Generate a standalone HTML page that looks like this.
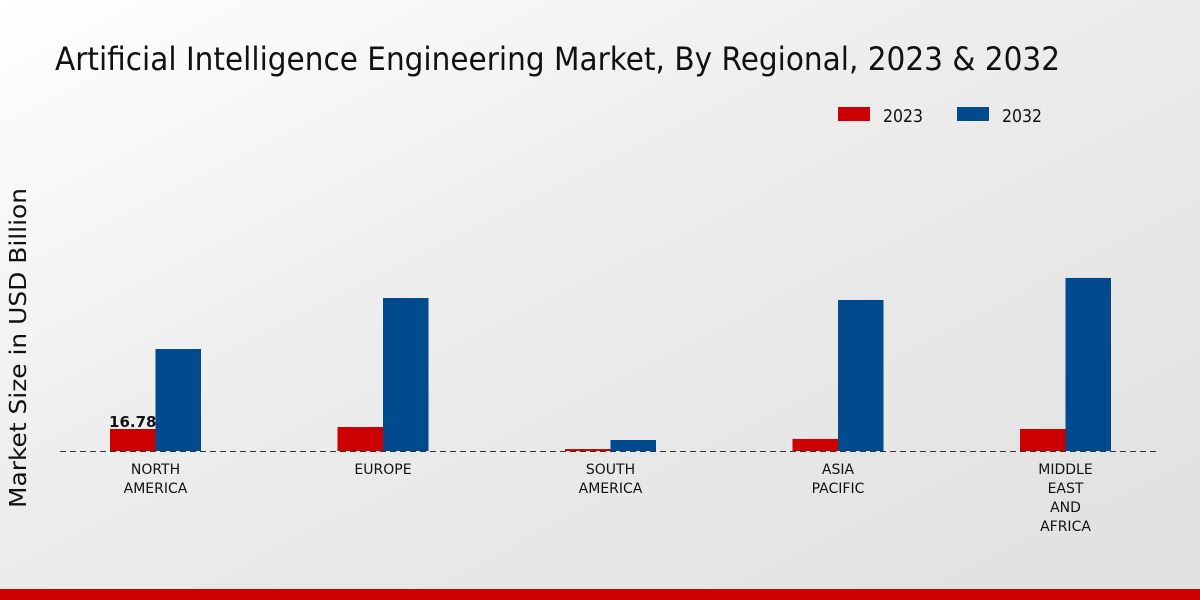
<!DOCTYPE html>
<html><head><meta charset="utf-8"><style>
html,body{margin:0;padding:0;width:1200px;height:600px;overflow:hidden}
svg{display:block}
text{font-family:"DejaVu Sans","Liberation Sans",sans-serif}
</style></head><body>
<svg id="chart" width="1200" height="600" xmlns="http://www.w3.org/2000/svg">
<defs><linearGradient id="bg" x1="0" y1="0" x2="1" y2="1"><stop offset="0" stop-color="#ffffff"/><stop offset="0.45" stop-color="#ececec"/><stop offset="1" stop-color="#e0e0e0"/></linearGradient></defs>
<rect width="1200" height="600" fill="url(#bg)"/>
<rect x="0" y="589" width="1200" height="11" fill="#cc0000"/>
<text x="55" y="70" font-size="32" textLength="1005" lengthAdjust="spacingAndGlyphs" fill="#111">Artificial Intelligence Engineering Market, By Regional, 2023 &amp; 2032</text>
<text transform="translate(26,348) rotate(-90)" text-anchor="middle" font-size="23" textLength="320" lengthAdjust="spacingAndGlyphs" fill="#111">Market Size in USD Billion</text>
<g>
<rect x="838" y="107" width="32" height="14" fill="#cc0000"/>
<text x="883" y="122" font-size="18" textLength="40" lengthAdjust="spacingAndGlyphs" fill="#111">2023</text>
<rect x="957" y="107" width="32" height="14" fill="#004a8d"/>
<text x="1002" y="122" font-size="18" textLength="40" lengthAdjust="spacingAndGlyphs" fill="#111">2032</text>
</g>
<g id="bars"></g>
<line x1="60" y1="451.5" x2="1160" y2="451.5" stroke="#333" stroke-dasharray="6,4" stroke-width="1"/>
<g id="labels"></g>
</svg>
<script>
const categories = [["NORTH","AMERICA"],["EUROPE"],["SOUTH","AMERICA"],["ASIA","PACIFIC"],["MIDDLE","EAST","AND","AFRICA"]];
const values2023 = [16.78, 18.3, 1.5, 9.2, 16.8];
const values2032 = [77.8, 116.7, 8.4, 115.2, 132.0];
const shownLabel = ["16.78", null, null, null, null];

const NS = "http://www.w3.org/2000/svg";
const baseY = 451, pxPer = 22/16.78;
const y = v => baseY - v*pxPer;
const xc = i => 155.5 + i*227.5;
const bw = 45.5;
const bars = document.getElementById('bars'), labels = document.getElementById('labels');
function mk(tag, attrs, parent){const e=document.createElementNS(NS,tag);for(const k in attrs)e.setAttribute(k,attrs[k]);parent.appendChild(e);return e;}
categories.forEach((c,i)=>{
  const r1 = mk('rect',{x:xc(i)-bw,y:y(values2023[i]),width:bw,height:baseY-y(values2023[i]),fill:'#cc0000'},bars);
  
  
  const r2 = mk('rect',{x:xc(i),y:y(values2032[i]),width:bw,height:baseY-y(values2032[i]),fill:'#004a8d'},bars);
  
  
  if(shownLabel[i]){
    const t = mk('text',{x:xc(i)-bw/2,y:y(values2023[i])-2,'text-anchor':'middle','font-size':15,'font-weight':'bold',fill:'#111'},labels);
    t.textContent = shownLabel[i];
    
    
  }
  const t = mk('text',{'text-anchor':'middle','font-size':14,fill:'#111'},labels);
  
  
  c.forEach((line,j)=>{const s=mk('tspan',{x:xc(i),y:474+j*19},t);s.textContent=line;});
});
</script>
</body></html>
